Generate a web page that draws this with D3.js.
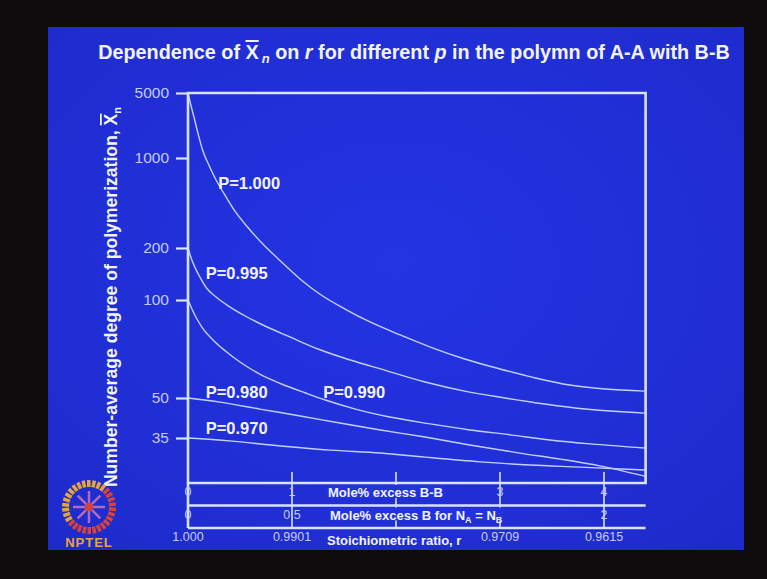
<!DOCTYPE html>
<html>
<head>
<meta charset="utf-8">
<script src="https://cdn.jsdelivr.net/npm/d3@7"></script>
<style>
  html, body { margin: 0; padding: 0; background: #0d0b0b; }
  svg { display: block; font-family: "Liberation Sans", Arial, sans-serif; }
</style>
</head>
<body>
<div id="wrapper"></div>
<script>
// values: x = mole% excess B-B, y = number-average DP
const excessP1000 = [0, 0.02, 0.06, 0.10, 0.14, 0.20, 0.27, 0.36, 0.45, 0.58, 0.71, 0.89, 1.08, 1.27, 1.51, 1.75, 2.04, 2.33, 2.66, 3.00, 3.34, 3.67, 4.01, 4.39];
const xnP1000     = [5000, 4000, 2690, 1770, 1220, 882, 675, 507, 388, 286, 219, 168, 132, 108, 93.8, 85.6, 78.1, 71.7, 65.9, 61.4, 57.6, 54.8, 53.3, 52.5];

const excessP995 = [0, 0.03, 0.07, 0.12, 0.18, 0.27, 0.39, 0.55, 0.74, 0.98, 1.25, 1.56, 1.89, 2.28, 2.66, 3.05, 3.43, 3.82, 4.39];
const xnP995     = [200, 175, 153, 134, 117, 104, 95.8, 89.3, 83.2, 77.0, 70.7, 65.4, 60.9, 56.0, 52.5, 50.0, 47.4, 45.3, 43.7];

const excessP990 = [0, 0.07, 0.14, 0.24, 0.36, 0.50, 0.69, 0.90, 1.13, 1.32, 1.61, 1.94, 2.33, 2.71, 3.10, 3.48, 3.87, 4.39];
const xnP990     = [100, 89.3, 82.0, 75.4, 69.7, 64.5, 59.2, 55.2, 51.8, 49.1, 45.3, 42.2, 39.7, 37.6, 36.0, 34.4, 33.2, 32.0];

const excessP980 = [0, 0.31, 0.69, 1.08, 1.46, 1.85, 2.28, 2.71, 3.19, 3.58, 3.96, 4.39];
const xnP980     = [50, 48.2, 45.3, 42.6, 40.0, 37.6, 35.3, 32.9, 30.6, 29.0, 27.3, 24.9];

const excessP970 = [0, 0.40, 0.89, 1.37, 1.85, 2.28, 2.81, 3.29, 3.77, 4.39];
const xnP970     = [35, 34.1, 32.6, 31.4, 30.6, 29.5, 28.3, 27.5, 27.0, 26.3];

const curveLabels = ['P=1.000', 'P=0.995', 'P=0.990', 'P=0.980', 'P=0.970'];
// where each label sits, in data units (left edge, baseline)
const labelExcess = [0.29, 0.17, 1.30, 0.17, 0.17];
const labelXn     = [574, 132, 49.8, 50, 36.3];

const yTicks = [5000, 1000, 200, 100, 50, 35];
const excessTicks = [1, 2, 3, 4];
const excessLabels = [0, 1, 3, 4];
const monoLabels = [0, 0.5, 2];
const ratioAt = [0, 1, 3, 4];
const ratioLabels = ['1.000', '0.9901', '0.9709', '0.9615'];

const dimensions = {
  width: 767,
  height: 579,
  slide: { x: 48, y: 27, w: 696, h: 523 },
  plot: { left: 188, right: 645.6, top: 93, bottom: 483 },
  // the hand-drawn y axis: where each tick sits
  yTickRows: [93, 158, 248, 300, 398, 438],
  rowGap: 22.5,
};

const blue = '#2232dd';
const lineColor = '#d8e3ff';
const curveColor = '#c3d0ff';
const numColor = '#c4ccff';

const svg = d3.select('#wrapper')
  .append('svg')
  .attr('width', dimensions.width)
  .attr('height', dimensions.height);

const defs = svg.append('defs');
const grad = defs.append('radialGradient').attr('id', 'bg').attr('cx', '50%').attr('cy', '45%').attr('r', '70%');
grad.append('stop').attr('offset', '0%').attr('stop-color', '#2434e4');
grad.append('stop').attr('offset', '100%').attr('stop-color', '#1e2bcc');

svg.append('rect').attr('width', dimensions.width).attr('height', dimensions.height).attr('fill', '#0d0b0b');
svg.append('rect')
  .attr('x', dimensions.slide.x).attr('y', dimensions.slide.y)
  .attr('width', dimensions.slide.w).attr('height', dimensions.slide.h)
  .attr('fill', 'url(#bg)');

const p = dimensions.plot;

const xScale = d3.scaleLinear().domain([0, 4.4]).range([p.left, p.right]);
const monoScale = d3.scaleLinear().domain([0, 2.2]).range([p.left, p.right]);
const yScale = d3.scaleLog()
  .domain(yTicks.slice().reverse())
  .range(dimensions.yTickRows.slice().reverse());

// title
const title = svg.append('text')
  .attr('x', 414).attr('y', 59)
  .attr('text-anchor', 'middle')
  .attr('fill', '#f2f4ff')
  .style('font-size', '19.8px')
  .style('font-weight', 'bold');
title.append('tspan').text('Dependence of ');
title.append('tspan').text('X').style('text-decoration', 'overline');
title.append('tspan').text('n').attr('dx', 3).attr('dy', 4).style('font-size', '13px').style('font-style', 'italic');
title.append('tspan').text(' on ').attr('dy', -4);
title.append('tspan').text('r').style('font-style', 'italic');
title.append('tspan').text(' for different ');
title.append('tspan').text('p').style('font-style', 'italic');
title.append('tspan').text(' in the polymn of A-A with B-B');

// y axis title
const yTitle = svg.append('text')
  .attr('transform', 'translate(117, 297) rotate(-90)')
  .attr('text-anchor', 'middle')
  .attr('fill', '#f2f4ff')
  .style('font-size', '17.6px')
  .style('font-weight', 'bold');
yTitle.append('tspan').text('Number-average degree of polymerization, ');
yTitle.append('tspan').text('X').style('text-decoration', 'overline');
yTitle.append('tspan').text('n').attr('dy', 4).style('font-size', '11px');

// y axis ticks
const yAxis = d3.axisLeft(yScale)
  .tickValues(yTicks)
  .tickFormat(d3.format('d'))
  .tickSize(12)
  .tickPadding(7);

svg.append('g')
  .attr('transform', `translate(${p.left},0)`)
  .call(yAxis)
  .call(g => g.select('.domain').remove())
  .call(g => g.selectAll('.tick line').attr('stroke', lineColor).attr('stroke-width', 2.2))
  .call(g => g.selectAll('.tick text')
    .attr('fill', numColor)
    .style('font-size', '15.5px')
    .style('font-family', '"Liberation Sans", Arial, sans-serif'));

// curves
const curves = [
  [excessP1000, xnP1000],
  [excessP995, xnP995],
  [excessP990, xnP990],
  [excessP980, xnP980],
  [excessP970, xnP970],
].map(([xs, ys]) => xs.map((d, i) => [d, ys[i]]));

const lineGenerator = d3.line()
  .x(d => xScale(d[0]))
  .y(d => yScale(d[1]))
  .curve(d3.curveMonotoneX);

svg.append('g')
  .selectAll('path')
  .data(curves)
  .enter().append('path')
  .attr('d', lineGenerator)
  .attr('fill', 'none')
  .attr('stroke', curveColor)
  .attr('stroke-width', 1.4);

svg.append('g')
  .selectAll('text')
  .data(curveLabels)
  .enter().append('text')
  .attr('x', (d, i) => xScale(labelExcess[i]))
  .attr('y', (d, i) => yScale(labelXn[i]))
  .text(d => d)
  .attr('fill', '#f2f4ff')
  .style('font-size', '16.5px')
  .style('font-weight', 'bold');

// frame and the three bottom scales
const row1 = p.bottom;
const row2 = p.bottom + dimensions.rowGap;
const row3 = p.bottom + dimensions.rowGap * 2;

const ticksGroup = svg.append('g');
ticksGroup.selectAll('line')
  .data(excessTicks)
  .enter().append('line')
  .attr('x1', d => xScale(d)).attr('x2', d => xScale(d))
  .attr('y1', row1 - 11).attr('y2', row3)
  .attr('stroke', lineColor)
  .attr('stroke-width', 1.6);

const frame = svg.append('g')
  .attr('fill', 'none')
  .attr('stroke', lineColor)
  .attr('stroke-width', 2.6);
frame.append('path')
  .attr('d', `M${p.left},${row3} V${p.top} H${p.right} V${p.bottom} H${p.left}`);
frame.append('line').attr('x1', p.left).attr('x2', p.right).attr('y1', row2).attr('y2', row2);
frame.append('line').attr('x1', p.left).attr('x2', p.right).attr('y1', row3).attr('y2', row3);

const numStyle = sel => sel
  .attr('text-anchor', 'middle')
  .attr('fill', numColor)
  .style('font-size', '12.5px');

svg.append('g').selectAll('text')
  .data(excessLabels)
  .enter().append('text')
  .attr('x', d => xScale(d))
  .attr('y', row1 + 13)
  .text(d => d)
  .call(numStyle);

svg.append('g').selectAll('text')
  .data(monoLabels)
  .enter().append('text')
  .attr('x', d => monoScale(d))
  .attr('y', row2 + 13)
  .text(d => d)
  .call(numStyle);

svg.append('g').selectAll('text')
  .data(ratioLabels)
  .enter().append('text')
  .attr('x', (d, i) => xScale(ratioAt[i]))
  .attr('y', row3 + 13)
  .text(d => d)
  .call(numStyle);

// scale names, with the slide colour behind them so the ticks stop at the text
function scaleName(xPos, rowTop, baseline, build) {
  const g = svg.append('g');
  const bg = g.append('rect').attr('fill', blue);
  const t = g.append('text')
    .attr('x', xPos).attr('y', baseline)
    .attr('fill', '#f2f4ff')
    .style('font-size', '13px')
    .style('font-weight', 'bold');
  build(t);
  const box = t.node().getBBox();
  bg.attr('x', box.x - 1).attr('width', box.width + 2)
    .attr('y', rowTop + 2).attr('height', baseline - rowTop - 1);
}

scaleName(328, row1, row1 + 14, t => t.text('Mole% excess B-B'));
scaleName(330, row2, row2 + 14, t => {
  t.append('tspan').text('Mole% excess B for N');
  t.append('tspan').text('A').attr('dy', 3).style('font-size', '9px');
  t.append('tspan').text(' = N').attr('dy', -3);
  t.append('tspan').text('B').attr('dy', 3).style('font-size', '9px');
});
svg.append('text')
  .attr('x', 327).attr('y', row3 + 17)
  .attr('fill', '#f2f4ff')
  .style('font-size', '13px')
  .style('font-weight', 'bold')
  .text('Stoichiometric ratio, r');

// NPTEL logo
const logo = svg.append('g').attr('transform', 'translate(89, 507)');
const teeth = d3.range(30);
logo.selectAll('rect')
  .data(teeth)
  .enter().append('rect')
  .attr('x', -2).attr('y', -27)
  .attr('width', 3.5).attr('height', 7)
  .attr('transform', d => `rotate(${d * 12 - 120})`)
  .attr('fill', d => d < 14 ? '#e6a43c' : '#d8423a');
logo.selectAll('line')
  .data(d3.range(8))
  .enter().append('line')
  .attr('x1', 0).attr('y1', -4).attr('x2', 0).attr('y2', -16)
  .attr('transform', d => `rotate(${d * 45})`)
  .attr('stroke', '#b46ab8')
  .attr('stroke-width', 2.5);
logo.append('circle').attr('r', 4).attr('fill', '#d8423a');
svg.append('text')
  .attr('x', 89).attr('y', 547)
  .attr('text-anchor', 'middle')
  .attr('fill', '#eea03a')
  .style('font-size', '13px')
  .style('font-weight', 'bold')
  .style('letter-spacing', '1px')
  .text('NPTEL');
</script>
</body>
</html>
